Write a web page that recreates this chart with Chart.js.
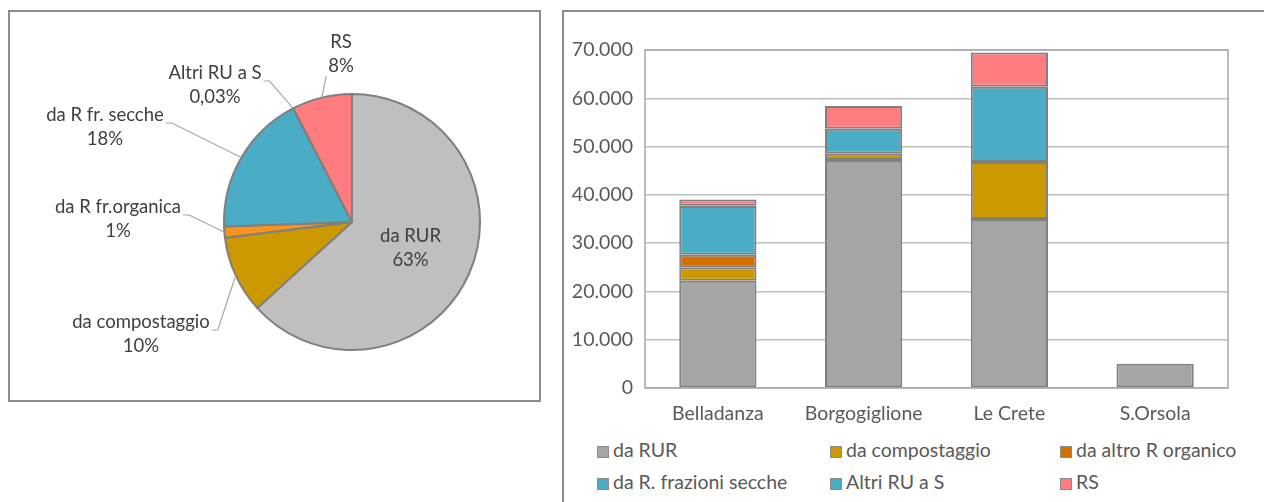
<!DOCTYPE html>
<html>
<head>
<meta charset="utf-8">
<script src="https://cdn.jsdelivr.net/npm/chart.js@4.4.0/dist/chart.umd.min.js"></script>
<style>
  body { margin: 0; width: 1264px; height: 502px; overflow: hidden; background: #fff; font-family: Lato, sans-serif; }
  .panel { position: absolute; border: 2px solid #8c8c8c; box-sizing: border-box; }
  #pieBox { left: 8px; top: 10px; width: 533px; height: 392px; }
  #barBox { left: 562px; top: 10px; width: 760px; height: 560px; }
  .panel canvas { position: absolute; left: 0; top: 0; }
  .leg { position: absolute; height: 24px; line-height: 24px; font-size: 19.5px; color: #595959; white-space: nowrap; }
  .leg span { display: inline-block; width: 10px; height: 10px; border: 1px solid #8c8c8c; margin-right: 4px; vertical-align: -1px; }
</style>
</head>
<body>
<div class="panel" id="pieBox"><canvas id="pieChart" width="529" height="388"></canvas></div>
<div class="panel" id="barBox"><canvas id="barChart" width="700" height="420"></canvas><div id="legend"></div></div>
<script>
// pie: share of each origin (%)
const pieNames = ['da RUR', 'da compostaggio', 'da R fr.organica', 'da R fr. secche', 'Altri RU a S', 'RS'];
const pieValues = [63.4, 9.8, 1.4, 18.0, 0.03, 7.6];
const piePct = ['63%', '10%', '1%', '18%', '0,03%', '8%'];
const pieColors = ['#bfbfbf', '#cc9900', '#f7931e', '#4bacc6', '#4bacc6', '#ff7c80'];

// stacked bars per site
const sites = ['Belladanza', 'Borgogiglione', 'Le Crete', 'S.Orsola'];
const seriesNames = ['da RUR', 'da compostaggio', 'da altro R organico', 'da R. frazioni secche', 'Altri RU a S', 'RS'];
const daRUR = [22200, 47200, 35000, 5000];
const daCompostaggio = [2800, 1300, 11800, 0];
const daAltroOrganico = [2600, 0, 0, 0];
const daFrazioniSecche = [10100, 5200, 15600, 0];
const altriRU = [50, 0, 0, 0];
const rs = [1300, 4700, 7100, 0];
const yTicks = [0, 10000, 20000, 30000, 40000, 50000, 60000, 70000];

const barColors = ['#a5a5a5', '#cc9900', '#d56f00', '#4bacc6', '#4bacc6', '#ff7c80'];
const textColor = '#595959';

// label placement (offset of label centre from pie centre), side the leader leaves from
const pieLabelLayout = [
  { inside: true },
  { dx: -211, dy: 112, side: 'right' },
  { dx: -234, dy: -3, side: 'right' },
  { dx: -247, dy: -95, side: 'right' },
  { dx: -137, dy: -137, side: 'right' },
  { dx: -11, dy: -168, side: 'bottom' }
];

const pieLabels = {
  id: 'pieLabels',
  afterDatasetsDraw(chart) {
    const ctx = chart.ctx;
    const arcs = chart.getDatasetMeta(0).data;
    ctx.save();
    ctx.font = '18.5px Lato';
    ctx.fillStyle = '#404040';
    ctx.textAlign = 'center';
    ctx.textBaseline = 'middle';
    arcs.forEach((arc, i) => {
      const p = arc.getProps(['x', 'y', 'startAngle', 'endAngle', 'outerRadius'], true);
      const mid = (p.startAngle + p.endAngle) / 2;
      const lay = pieLabelLayout[i];
      let cx, cy;
      if (lay.inside) {
        cx = p.x + Math.cos(mid) * p.outerRadius * 0.5;
        cy = p.y + Math.sin(mid) * p.outerRadius * 0.5;
      } else {
        cx = p.x + lay.dx;
        cy = p.y + lay.dy;
        const ax = p.x + Math.cos(mid) * p.outerRadius;
        const ay = p.y + Math.sin(mid) * p.outerRadius;
        const w = Math.max(ctx.measureText(pieNames[i]).width, ctx.measureText(piePct[i]).width);
        ctx.beginPath();
        ctx.strokeStyle = '#a6a6a6';
        ctx.lineWidth = 1.2;
        if (lay.side === 'right') {
          const sx = cx + w / 2 + 2, sy = cy - 4;
          ctx.moveTo(sx, sy);
          ctx.lineTo(sx + 6, sy);
          ctx.lineTo(ax, ay);
        } else {
          ctx.moveTo(cx - w / 2 - 2, cy + 22);
          ctx.lineTo(ax, ay);
        }
        ctx.stroke();
      }
      ctx.fillText(pieNames[i], cx, cy - 12);
      ctx.fillText(piePct[i], cx, cy + 12);
    });
    ctx.restore();
  }
};

new Chart(document.getElementById('pieChart'), {
  type: 'pie',
  data: {
    labels: pieNames,
    datasets: [{
      data: pieValues,
      backgroundColor: pieColors,
      borderColor: '#7f7f7f',
      borderWidth: 2
    }]
  },
  options: {
    responsive: false,
    animation: false,
    layout: { padding: { left: 213, top: 81, right: 58, bottom: 49 } },
    plugins: { legend: { display: false }, tooltip: { enabled: false } }
  },
  plugins: [pieLabels]
});

const fmt = v => String(v).replace(/\B(?=(\d{3})+(?!\d))/g, '.');

const plotBox = {
  id: 'plotBox',
  beforeDatasetsDraw(chart) {
    const a = chart.chartArea, ctx = chart.ctx;
    ctx.save();
    ctx.strokeStyle = '#a6a6a6';
    ctx.lineWidth = 1.5;
    ctx.strokeRect(a.left, a.top, a.right - a.left, a.bottom - a.top);
    ctx.restore();
  }
};

const seriesData = [daRUR, daCompostaggio, daAltroOrganico, daFrazioniSecche, altriRU, rs];

new Chart(document.getElementById('barChart'), {
  type: 'bar',
  data: {
    labels: sites,
    datasets: seriesData.map((d, i) => ({
      label: seriesNames[i],
      data: d,
      backgroundColor: barColors[i],
      borderColor: '#808080',
      borderWidth: 2,
      borderSkipped: false,
      categoryPercentage: 1,
      barPercentage: 0.53
    }))
  },
  options: {
    responsive: false,
    animation: false,
    layout: { padding: { left: 0, top: 38, right: 36, bottom: 0 } },
    plugins: { legend: { display: false }, tooltip: { enabled: false } },
    scales: {
      x: {
        stacked: true,
        grid: { display: false, drawTicks: false },
        border: { display: false },
        ticks: { color: textColor, font: { family: 'Lato', size: 19.5 }, padding: 14 },
        afterFit: s => { s.height = 44; }
      },
      y: {
        stacked: true,
        min: yTicks[0],
        max: yTicks[yTicks.length - 1],
        ticks: { stepSize: 10000, color: textColor, font: { family: 'Lato', size: 19.5 }, padding: 12, callback: v => fmt(v) },
        grid: { color: '#bfbfbf', lineWidth: 1.5, drawTicks: false },
        border: { display: false },
        afterFit: s => { s.width = 81; }
      }
    }
  },
  plugins: [plotBox]
});

// legend in three columns, like the original
const legend = document.getElementById('legend');
const legCols = [33, 266, 496];
const legRows = [426, 458];
seriesNames.forEach((name, i) => {
  const el = document.createElement('div');
  el.className = 'leg';
  el.style.left = legCols[i % 3] + 'px';
  el.style.top = legRows[Math.floor(i / 3)] + 'px';
  el.innerHTML = '<span style="background:' + barColors[i] + '"></span>' + name;
  legend.appendChild(el);
});
</script>
</body>
</html>
